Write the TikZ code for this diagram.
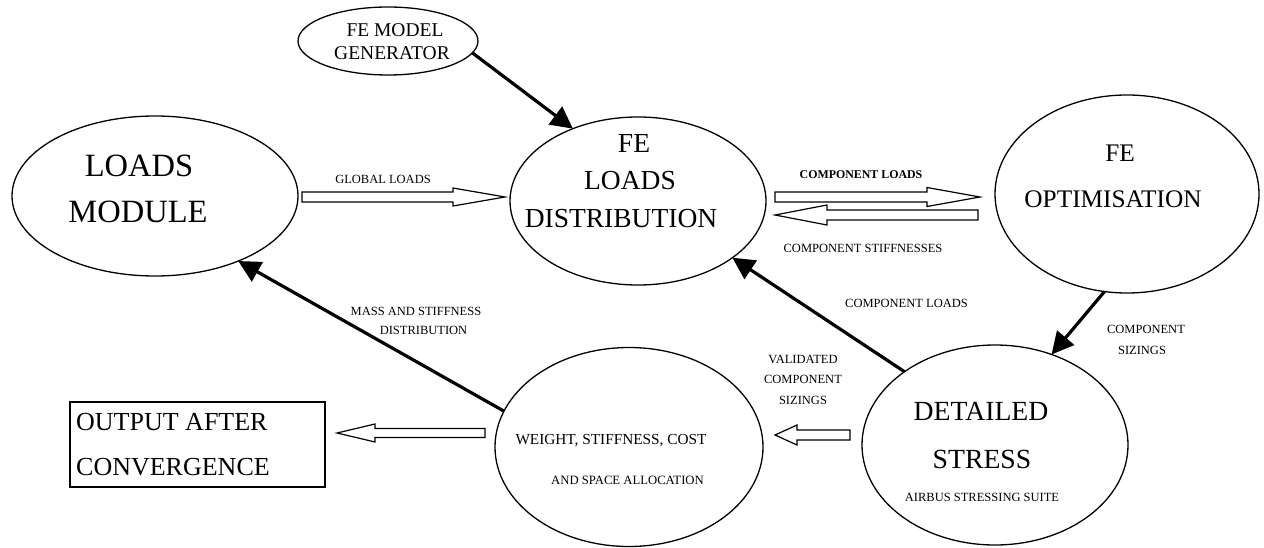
\documentclass[tikz,border=0pt]{standalone}
\usepackage{fontspec}
\setmainfont{Liberation Serif}
\usetikzlibrary{shapes.geometric,arrows.meta}
\begin{document}
\begin{tikzpicture}[x=1pt,y=-1pt,
  ell/.style={draw, ellipse, line width=1.3pt, inner sep=0pt, outer sep=0pt},
  lbl/.style={inner sep=0pt, anchor=base},
  sm/.style={lbl, font=\fontsize{12.5}{14}\selectfont},
  heavy/.style={line width=3.2pt, -{Triangle[length=22pt,width=22pt]}},
  blk/.style={draw, line width=1.2pt, fill=white, line join=miter}]
\useasboundingbox (0,0) rectangle (1264,548);

% ellipses
\node[ell, minimum width=180pt, minimum height=68pt] (fm) at (388,41) {};
\node[ell, minimum width=286pt, minimum height=160pt] (lm) at (155,196) {};
\node[ell, minimum width=256pt, minimum height=168pt] (fld) at (638,201) {};
\node[ell, minimum width=264pt, minimum height=198pt] (fo) at (1127,194) {};
\node[ell, minimum width=266pt, minimum height=200pt] (ds) at (995,445) {};
\node[ell, minimum width=268pt, minimum height=199pt] (w) at (629,447) {};
\node[draw, line width=1.2pt, minimum width=255pt, minimum height=85pt, inner sep=0pt] (out) at (197.5,444.5) {};

% texts in shapes
\node[lbl, font=\fontsize{19.5}{22}\selectfont] (t1) at (395,37) {FE MODEL};
\node[lbl, font=\fontsize{19.5}{22}\selectfont] (t2) at (392,60) {GENERATOR};
\node[lbl, font=\fontsize{32.5}{36}\selectfont] (t3) at (139,177) {LOADS};
\node[lbl, font=\fontsize{32.5}{36}\selectfont] (t4) at (138,223) {MODULE};
\node[lbl, font=\fontsize{27.5}{30}\selectfont] (t5) at (634,153) {FE};
\node[lbl, font=\fontsize{27.5}{30}\selectfont] (t6) at (630,190) {LOADS};
\node[lbl, font=\fontsize{27.5}{30}\selectfont] (t7) at (621,228) {DISTRIBUTION};
\node[lbl, font=\fontsize{25.3}{28}\selectfont] (t8) at (1120,162) {FE};
\node[lbl, font=\fontsize{25.3}{28}\selectfont] (t9) at (1113,208) {OPTIMISATION};
\node[lbl, font=\fontsize{27.7}{30}\selectfont] (t10) at (981,420) {DETAILED};
\node[lbl, font=\fontsize{27.7}{30}\selectfont] (t11) at (982,468) {STRESS};
\node[sm] (t12) at (982,501) {AIRBUS STRESSING SUITE};
\node[lbl, font=\fontsize{15.3}{18}\selectfont] (t13) at (611,444) {WEIGHT, STIFFNESS, COST};
\node[lbl, font=\fontsize{12.7}{15}\selectfont] (t14) at (627.5,484) {AND SPACE ALLOCATION};
\node[inner sep=0pt, anchor=base west, font=\fontsize{26}{30}\selectfont] (t15) at (76,430) {OUTPUT AFTER};
\node[inner sep=0pt, anchor=base west, font=\fontsize{26}{30}\selectfont] (t16) at (76,475) {CONVERGENCE};

% labels
\node[sm] (l1) at (383,184) {GLOBAL LOADS};
\node[lbl, font=\fontsize{11.9}{14}\selectfont\bfseries] (l2) at (861,179) {COMPONENT LOADS};
\node[sm] (l3) at (863,253) {COMPONENT STIFFNESSES};
\node[sm] (l4) at (906.5,307) {COMPONENT LOADS};
\node[sm] (l5) at (1146,333) {COMPONENT};
\node[sm] (l6) at (1142,354) {SIZINGS};
\node[sm] (l7) at (416,316) {MASS AND STIFFNESS};
\node[sm] (l8) at (423.5,334) {DISTRIBUTION};
\node[sm] (l9) at (803,363) {VALIDATED};
\node[sm] (l10) at (803,383) {COMPONENT};
\node[sm] (l11) at (803,404) {SIZINGS};

% hollow block arrows
\draw[blk] (302,192) -- (453,192) -- (453,188) -- (505,197) -- (453,206) -- (453,202) -- (302,202) -- cycle;
\draw[blk] (775,192) -- (927,192) -- (927,187.5) -- (980,197) -- (927,206.5) -- (927,202) -- (775,202) -- cycle;
\draw[blk] (978,210) -- (827,210) -- (827,205) -- (775,215) -- (827,225) -- (827,220) -- (978,220) -- cycle;
\draw[blk] (850,430) -- (797,430) -- (797,425) -- (775,435) -- (797,445) -- (797,440) -- (850,440) -- cycle;
\draw[blk] (485,428.5) -- (375,428.5) -- (375,424) -- (337,433) -- (375,442) -- (375,437.5) -- (485,437.5) -- cycle;

% heavy arrows
\draw[heavy] (fm.-8) -- (fld.132);
\draw[heavy] (fo.-103) -- (ds.58);
\draw[heavy] (ds.141) -- (fld.-31);
\draw[heavy] (w.164) -- (lm.-38);
\end{tikzpicture}
\end{document}
